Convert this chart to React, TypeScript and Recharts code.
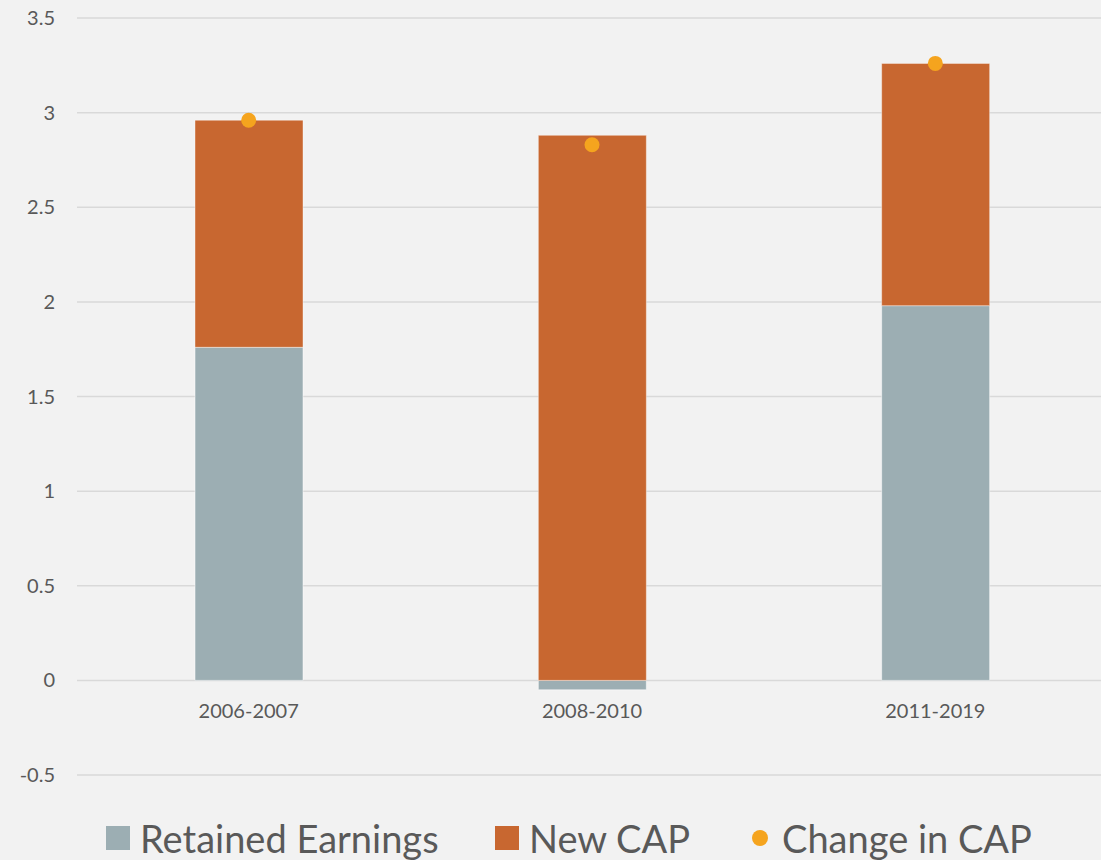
import {
  ComposedChart,
  Bar,
  Line,
  XAxis,
  YAxis,
  CartesianGrid,
  Legend,
} from "recharts";

const categories = ["2006-2007", "2008-2010", "2011-2019"];
const retainedEarnings = [1.76, -0.05, 1.98];
const newCap = [1.2, 2.88, 1.28];
const changeInCap = [2.96, 2.83, 3.26];
const yTicks = [-0.5, 0, 0.5, 1, 1.5, 2, 2.5, 3, 3.5];

const data = categories.map((name, i) => ({
  name,
  retained: retainedEarnings[i],
  newCap: newCap[i],
  change: changeInCap[i],
}));

const TEXT = "#595959";
const FONT = "Lato, 'Open Sans', sans-serif";
const GRAY = "#9caeb3";
const ORANGE = "#c86730";
const DOT = "#f5a41e";

const legendItems = [
  { label: "Retained Earnings", color: GRAY, shape: "square", width: 389 },
  { label: "New CAP", color: ORANGE, shape: "square", width: 257 },
  { label: "Change in CAP", color: DOT, shape: "circle", width: 320 },
];

// chart geometry
const W = 1101;
const H = 860;
const TOP = 18;
const LEGEND_H = 45;
const XAXIS_H = 40;
const plotH = H - TOP - LEGEND_H - XAXIS_H;
const zeroFromBottom = (plotH * (0 - yTicks[0])) / (yTicks[yTicks.length - 1] - yTicks[0]);

function CategoryTick(props: any) {
  const { x, y, payload } = props;
  // axis sits at the bottom, labels go just under the zero line
  return (
    <text
      x={x}
      y={y - zeroFromBottom + 30}
      textAnchor="middle"
      fill={TEXT}
      fontSize={20}
      fontFamily={FONT}
    >
      {payload.value}
    </text>
  );
}

function LegendContent() {
  return (
    <div
      style={{
        display: "flex",
        alignItems: "center",
        paddingLeft: 106,
        height: LEGEND_H,
        fontFamily: FONT,
        fontSize: 38,
        color: TEXT,
      }}
    >
      {legendItems.map((item) => (
        <div
          key={item.label}
          style={{ display: "flex", alignItems: "center", width: item.width, flexShrink: 0 }}
        >
          <div
            style={{
              width: item.shape === "circle" ? 16 : 24,
              height: item.shape === "circle" ? 16 : 24,
              borderRadius: item.shape === "circle" ? 8 : 0,
              background: item.color,
              marginRight: item.shape === "circle" ? 14 : 10,
              flexShrink: 0,
            }}
          />
          <span style={{ whiteSpace: "nowrap" }}>{item.label}</span>
        </div>
      ))}
    </div>
  );
}

export default function App() {
  return (
    <div
      style={{
        position: "absolute",
        left: 0,
        top: 0,
        width: W,
        height: H,
        background: "#f2f2f2",
        overflow: "hidden",
      }}
    >
      <ComposedChart
        width={W + 6}
        height={H}
        data={data}
        stackOffset="sign"
        margin={{ top: TOP, right: 0, bottom: 0, left: 0 }}
      >
        <CartesianGrid vertical={false} stroke="#d9d9d9" strokeWidth={1.5} />
        <XAxis
          dataKey="name"
          height={XAXIS_H}
          axisLine={false}
          tickLine={false}
          tick={<CategoryTick />}
        />
        <YAxis
          width={77}
          domain={[-0.5, 3.5]}
          ticks={yTicks}
          axisLine={false}
          tickLine={false}
          tickMargin={16}
          tick={{ fill: TEXT, fontSize: 20, fontFamily: FONT }}
        />
        <Legend
          verticalAlign="bottom"
          wrapperStyle={{ left: 0, bottom: 0, width: W }}
          content={<LegendContent />}
        />
        <Bar
          dataKey="retained"
          name="Retained Earnings"
          stackId="a"
          fill={GRAY}
          stroke="#ffffff"
          strokeOpacity={0.5}
          barSize={108}
          isAnimationActive={false}
        />
        <Bar
          dataKey="newCap"
          name="New CAP"
          stackId="a"
          fill={ORANGE}
          stroke="#ffffff"
          strokeOpacity={0.4}
          barSize={108}
          isAnimationActive={false}
        />
        <Line
          dataKey="change"
          name="Change in CAP"
          stroke="none"
          dot={{ r: 7.5, fill: DOT, stroke: "none" }}
          activeDot={false}
          isAnimationActive={false}
        />
      </ComposedChart>
    </div>
  );
}
